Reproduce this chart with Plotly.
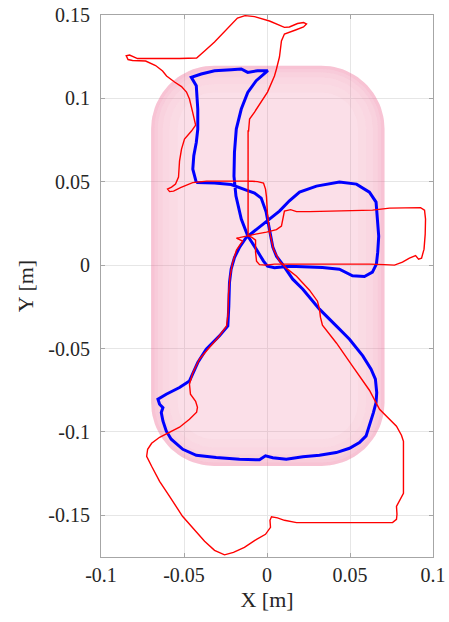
import numpy as np
import plotly.graph_objects as go

# ---- data (metres) ----
x_ticks = [-0.1, -0.05, 0.0, 0.05, 0.1]
x_tick_labels = ["-0.1", "-0.05", "0", "0.05", "0.1"]
y_ticks = [0.15, 0.1, 0.05, 0.0, -0.05, -0.1, -0.15]
y_tick_labels = ["0.15", "0.1", "0.05", "0", "-0.05", "-0.1", "-0.15"]

# measured trajectory (blue)
blue_x = [-0.0426, -0.0447, -0.0441, -0.0426, -0.0417, -0.0417, -0.0426, -0.0456,
          -0.0396, -0.0316, -0.0216, -0.0155, -0.0116, -0.0057, 0.0005,
          -0.0065, -0.0116, -0.0155, -0.0185, -0.0196, -0.0199, -0.0187, -0.0155,
          -0.0116, -0.0065, -0.0021, 0.0003, 0.0045,
          0.0135, 0.0196, 0.0334, 0.0436, 0.0515, 0.0587, 0.0635, 0.0659, 0.0667,
          0.0673, 0.0667, 0.0657, 0.0617, 0.0539, 0.0436, 0.0298, 0.0196, 0.0135,
          0.0075, 0.0015, -0.0065, -0.0125, -0.0166, -0.0196, -0.0216, -0.0226,
          -0.0230, -0.0236, -0.0286, -0.0366, -0.0417, -0.0467, -0.0527, -0.0607,
          -0.0657, -0.0647, -0.0627, -0.0637, -0.0627, -0.0607, -0.0577, -0.0507,
          -0.0426, -0.0306, -0.0166, -0.0045, -0.0009, 0.0035, 0.0116, 0.0216,
          0.0316, 0.0417, 0.0497, 0.0557, 0.0597, 0.0617, 0.0627, 0.0641, 0.0657,
          0.0661, 0.0653, 0.0627, 0.0577, 0.0497, 0.0417, 0.0316, 0.0216, 0.0155,
          0.0093, 0.0057, 0.0035, 0.0015, -0.0005, -0.0035, -0.0075, -0.0125,
          -0.0216, -0.0316, -0.0426]
blue_y = [0.0496, 0.0576, 0.0656, 0.0736, 0.0816, 0.0936, 0.1076, 0.1126,
          0.1146, 0.1166, 0.1172, 0.1176, 0.1156, 0.1166, 0.1166,
          0.1106, 0.1036, 0.0936, 0.0816, 0.0676, 0.0534, 0.0414, 0.0276,
          0.0176, 0.0096, 0.0024, -0.0006, -0.0015,
          -0.0006, -0.0008, -0.0014, -0.0024, -0.0064, -0.0068, -0.0042, 0.0006, 0.0078,
          0.0174, 0.0276, 0.0378, 0.0438, 0.0486, 0.0498, 0.0474, 0.0438, 0.0386,
          0.0324, 0.0276, 0.0216, 0.0166, 0.0106, 0.0046, -0.0024, -0.0104,
          -0.0244, -0.0364, -0.0424, -0.0504, -0.0584, -0.0694, -0.0734, -0.0774,
          -0.0804, -0.0834, -0.0854, -0.0884, -0.0934, -0.0994, -0.1044, -0.1104,
          -0.1140, -0.1154, -0.1164, -0.1167, -0.1143, -0.1155, -0.1164, -0.1149,
          -0.1140, -0.1124, -0.1098, -0.1064, -0.1024, -0.0964, -0.0924, -0.0884, -0.0824,
          -0.0764, -0.0684, -0.0624, -0.0544, -0.0444, -0.0364, -0.0264, -0.0144, -0.0084,
          0.0006, 0.0054, 0.0108, 0.0216, 0.0318, 0.0402, 0.0432, 0.0450,
          0.0483, 0.0492, 0.0496]

# reference trajectory (red)
red_x = [-0.0114, -0.0114, -0.0114, -0.0111, -0.0105, -0.0075, 0.0003, 0.0045,
         0.0057, 0.0075, 0.0087, 0.0105, 0.0172, 0.0220, 0.0238, 0.0220, 0.0184,
         0.0135, 0.0105, 0.0015, -0.0075, -0.0132, -0.0178, -0.0250, -0.0316,
         -0.0376, -0.0424, -0.0527, -0.0707, -0.0780, -0.0828, -0.0848, -0.0837,
         -0.0810, -0.0731, -0.0671, -0.0629, -0.0605, -0.0557, -0.0515, -0.0485,
         -0.0467, -0.0448, -0.0430, -0.0455, -0.0497, -0.0515, -0.0527, -0.0533,
         -0.0551, -0.0575, -0.0599, -0.0587, -0.0563, -0.0521, -0.0448, -0.0364,
         -0.0226, -0.0114, -0.0057, -0.0021, -0.0009, -0.0003, 0.0003, 0.0015,
         0.0039, 0.0075, 0.0123, 0.0178, 0.0256, 0.0304, 0.0316, 0.0322, 0.0334,
         0.0419, 0.0515, 0.0617, 0.0678, 0.0738, 0.0780, 0.0810, 0.0822, 0.0822,
         0.0798, 0.0780, 0.0783, 0.0780, 0.0756, 0.0178, 0.0105, 0.0063, 0.0027,
         0.0018, 0.0021, -0.0009, -0.0063, -0.0136, -0.0202, -0.0256, -0.0316,
         -0.0376, -0.0424, -0.0509, -0.0587, -0.0647, -0.0695, -0.0725, -0.0719,
         -0.0695, -0.0647, -0.0587, -0.0527, -0.0467, -0.0424, -0.0419, -0.0430,
         -0.0461, -0.0467, -0.0448, -0.0407, -0.0346, -0.0298, -0.0244, -0.0235,
         -0.0232, -0.0223, -0.0208, -0.0184, -0.0147, -0.0172, -0.0184, -0.0166,
         -0.0114, -0.0069, -0.0003, 0.0057, 0.0087, 0.0099, 0.0105, 0.0142, 0.0178,
         0.0256, 0.0437, 0.0636, 0.0738, 0.0828, 0.0925, 0.0949, 0.0955, 0.0953,
         0.0946, 0.0931, 0.0913, 0.0895, 0.0877, 0.0858, 0.0816, 0.0768, 0.0708,
         0.0617, 0.0196, 0.0045, -0.0009, -0.0045, -0.0063, -0.0069, -0.0069,
         -0.0093, -0.0114]
red_y = [0.0174, 0.0498, 0.0804, 0.0804, 0.0876, 0.0918, 0.1038, 0.1134,
         0.1176, 0.1248, 0.1344, 0.1386, 0.1410, 0.1428, 0.1446, 0.1455, 0.1449,
         0.1428, 0.1426, 0.1464, 0.1490, 0.1496, 0.1482, 0.1404, 0.1338,
         0.1284, 0.1242, 0.1239, 0.1239, 0.1239, 0.1260, 0.1256, 0.1233,
         0.1227, 0.1224, 0.1197, 0.1164, 0.1134, 0.1098, 0.1071, 0.1038,
         0.0996, 0.0918, 0.0840, 0.0804, 0.0756, 0.0696, 0.0624, 0.0528,
         0.0486, 0.0468, 0.0456, 0.0441, 0.0444, 0.0465, 0.0495, 0.0504,
         0.0505, 0.0505, 0.0501, 0.0492, 0.0456, 0.0408, 0.0306, 0.0204,
         0.0096, 0.0024, -0.0024, -0.0066, -0.0150, -0.0216, -0.0264, -0.0312, -0.0360,
         -0.0468, -0.0606, -0.0750, -0.0864, -0.0924, -0.0966, -0.1020, -0.1056, -0.1368,
         -0.1416, -0.1446, -0.1494, -0.1524, -0.1544, -0.1544, -0.1530, -0.1515, -0.1509,
         -0.1530, -0.1572, -0.1614, -0.1644, -0.1692, -0.1722, -0.1737, -0.1710,
         -0.1656, -0.1602, -0.1506, -0.1386, -0.1296, -0.1206, -0.1146, -0.1104,
         -0.1068, -0.1032, -0.1002, -0.0972, -0.0924, -0.0882, -0.0852, -0.0816,
         -0.0774, -0.0714, -0.0648, -0.0564, -0.0492, -0.0438, -0.0366, -0.0294,
         -0.0174, -0.0072, 0.0012, 0.0090, 0.0144, 0.0153, 0.0162, 0.0165,
         0.0174, 0.0186, 0.0198, 0.0213, 0.0234, 0.0288, 0.0324, 0.0333, 0.0321,
         0.0321, 0.0324, 0.0330, 0.0342, 0.0342, 0.0345, 0.0330, 0.0276, 0.0186,
         0.0096, 0.0042, 0.0036, 0.0057, 0.0051, 0.0042, 0.0018, 0.0000, 0.0003,
         0.0006, 0.0006, 0.0006, 0.0000, 0.0003, 0.0024, 0.0078, 0.0150,
         0.0168, 0.0174]

# robot footprint (rounded rectangle swept area)
foot_x = [-0.0698, 0.0708]
foot_y = [-0.1204, 0.1196]
foot_r = 0.038


def rounded_rect(x0, x1, y0, y1, r, n=24):
    """Counter-clockwise outline of a rounded rectangle."""
    xs, ys = [], []
    centres = [(x1 - r, y1 - r), (x0 + r, y1 - r), (x0 + r, y0 + r), (x1 - r, y0 + r)]
    for k, (cx, cy) in enumerate(centres):
        a = np.linspace(k * np.pi / 2, (k + 1) * np.pi / 2, n)
        xs.extend(cx + r * np.cos(a))
        ys.extend(cy + r * np.sin(a))
    xs.append(xs[0])
    ys.append(ys[0])
    return np.array(xs), np.array(ys)


def ring(inset_out, inset_in):
    """Band between two nested rounded rectangles (outer CCW, inner CW)."""
    ox, oy = rounded_rect(foot_x[0] + inset_out, foot_x[1] - inset_out,
                          foot_y[0] + inset_out, foot_y[1] - inset_out,
                          max(foot_r - inset_out, 0.002))
    ix, iy = rounded_rect(foot_x[0] + inset_in, foot_x[1] - inset_in,
                          foot_y[0] + inset_in, foot_y[1] - inset_in,
                          max(foot_r - inset_in, 0.002))
    return np.concatenate([ox, ix[::-1]]), np.concatenate([oy, iy[::-1]])


fig = go.Figure()

# footprint base fill
bx, by = rounded_rect(foot_x[0], foot_x[1], foot_y[0], foot_y[1], foot_r)
fig.add_trace(go.Scatter(x=bx, y=by, mode="lines", fill="toself",
                         fillcolor="rgba(236,96,140,0.20)", line=dict(width=0),
                         hoverinfo="skip", showlegend=False))

# darker band along the footprint edge
bands = [(0.0, 0.002, 0.22), (0.002, 0.004, 0.15), (0.004, 0.007, 0.10),
         (0.007, 0.011, 0.06), (0.011, 0.016, 0.03)]
for a, b, alpha in bands:
    rx, ry = ring(a, b)
    fig.add_trace(go.Scatter(x=rx, y=ry, mode="lines", fill="toself",
                             fillcolor=f"rgba(236,96,140,{alpha})", line=dict(width=0),
                             hoverinfo="skip", showlegend=False))

fig.add_trace(go.Scatter(x=blue_x, y=blue_y, mode="lines",
                         line=dict(color="#0000ff", width=3), showlegend=False))
fig.add_trace(go.Scatter(x=red_x, y=red_y, mode="lines",
                         line=dict(color="#ff0000", width=1.4), showlegend=False))

axis_common = dict(
    showgrid=True, gridcolor="#e6e6e6", gridwidth=1, zeroline=False,
    showline=True, linecolor="#a6a6a6", linewidth=1, mirror="ticks",
    ticks="inside", ticklen=4, tickcolor="#a6a6a6", automargin=False,
    tickfont=dict(family="Liberation Serif", size=20, color="#262626"),
)

fig.update_xaxes(range=[-0.1, 0.1], tickvals=x_ticks, ticktext=x_tick_labels,
                 title=dict(text="X [m]", standoff=6,
                            font=dict(family="Liberation Serif", size=22, color="#262626")),
                 **axis_common)
fig.update_yaxes(range=[-0.175, 0.15], tickvals=y_ticks, ticktext=y_tick_labels,
                 ticklabelstandoff=6,
                 title=dict(text="Y [m]", standoff=8,
                            font=dict(family="Liberation Serif", size=22, color="#262626")),
                 **axis_common)

fig.update_layout(width=449, height=622, margin=dict(l=101, r=16, t=15, b=65),
                  plot_bgcolor="white", paper_bgcolor="white", showlegend=False)

fig.write_html("out.html")
